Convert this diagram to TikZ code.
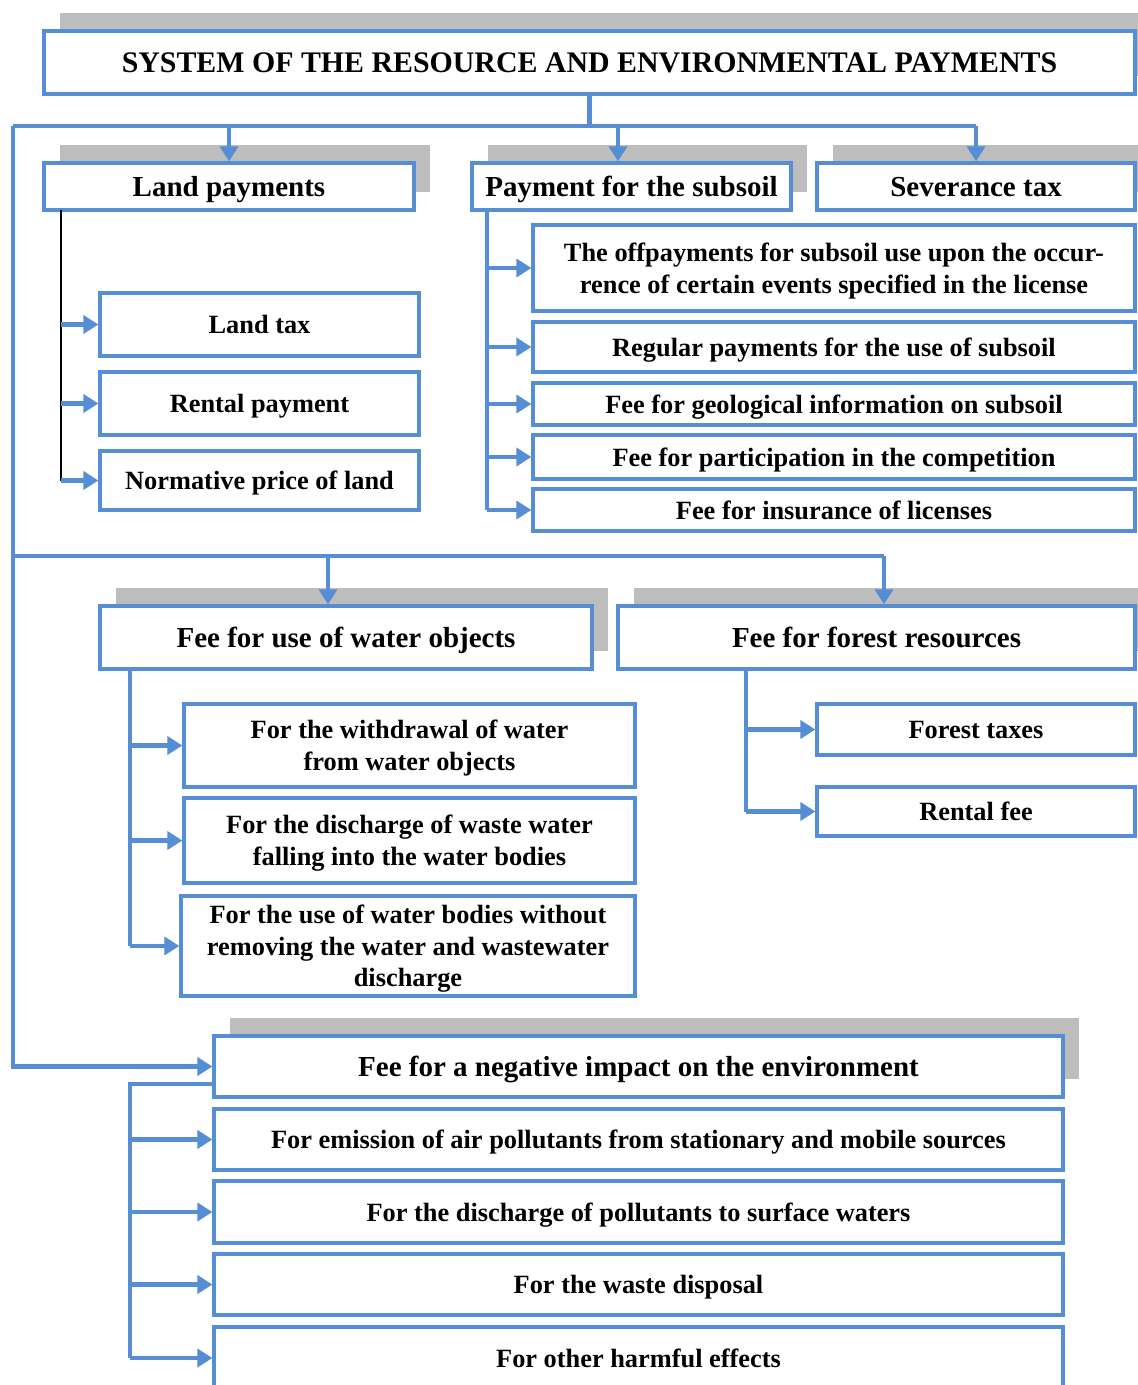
\documentclass[tikz,border=0pt]{standalone}
\usepackage{fontspec}
\setmainfont{Liberation Serif}
\usetikzlibrary{arrows.meta,shadows}
\definecolor{linkblue}{RGB}{85,142,213}
\tikzset{
  box/.style={draw=linkblue, line width=1.9pt, fill=white, inner sep=0pt, align=center,
    text depth=0pt, font=\bfseries\fontsize{15}{18}\selectfont},
  head/.style={box, font=\bfseries\fontsize{16.5}{20}\selectfont,
    drop shadow={shadow xshift=0.32cm, shadow yshift=0.36cm, fill=black!26, opacity=1}},
  link/.style={draw=linkblue, line width=2.5pt},
  arr/.style={link, -{Triangle[length=0.3cm,width=0.36cm]}}
}
\begin{document}
\begin{tikzpicture}[x=0.02cm, y=-0.02cm]
\useasboundingbox (0,0) rectangle (1137,1385);
% headers
\node (0)[head, font=\bfseries\fontsize{17}{20}\selectfont, minimum width=21.82cm, minimum height=1.26cm] at (589.5,62.5) {SYSTEM OF THE RESOURCE AND ENVIRONMENTAL PAYMENTS};
\node (1)[head, minimum width=7.4cm,  minimum height=0.94cm] at (229,186.5) {Land payments};
\node (2)[head, minimum width=6.38cm, minimum height=0.94cm] at (631.5,186.5) {Payment for the subsoil};
\node (3)[head, minimum width=6.36cm, minimum height=0.94cm] at (976,186.5) {Severance tax};
\node (4)[head, minimum width=9.84cm, minimum height=1.26cm] at (346,637.5) {Fee for use of water objects};
\node (5)[head, minimum width=10.34cm, minimum height=1.26cm] at (876.5,637.5) {Fee for forest resources};
\node (6)[head, minimum width=16.98cm, minimum height=1.22cm] at (638.5,1066.5) {Fee for a negative impact on the environment};
% land
\node (1a)[box, minimum width=6.38cm, minimum height=1.26cm] at (259.5,324.5) {Land tax};
\node (1b)[box, minimum width=6.38cm, minimum height=1.26cm] at (259.5,403.5) {Rental payment};
\node (1c)[box, minimum width=6.38cm, minimum height=1.18cm] at (259.5,480.5) {Normative price of land};
% subsoil
\node (2a)[box, minimum width=12.04cm, minimum height=1.72cm] at (834,268) {The offpayments for subsoil use upon the occur-\\rence of certain events specified in the license};
\node (2b)[box, minimum width=12.04cm, minimum height=1.0cm]  at (834,347) {Regular payments for the use of subsoil};
\node (2c)[box, minimum width=12.04cm, minimum height=0.84cm] at (834,404) {Fee for geological information on subsoil};
\node (2d)[box, minimum width=12.04cm, minimum height=0.88cm] at (834,457) {Fee for participation in the competition};
\node (2e)[box, minimum width=12.04cm, minimum height=0.84cm] at (834,510) {Fee for insurance of licenses};
% water
\node (4a)[box, minimum width=9.02cm, minimum height=1.66cm] at (409.5,745.5) {For the withdrawal of water\\from water objects};
\node (4b)[box, minimum width=9.02cm, minimum height=1.7cm]  at (409.5,840.5) {For the discharge of waste water\\falling into the water bodies};
\node (4c)[box, minimum width=9.08cm, minimum height=2.0cm]  at (408,946) {For the use of water bodies without\\removing the water and wastewater\\discharge};
% forest
\node (5a)[box, minimum width=6.36cm, minimum height=1.02cm] at (976,729.5) {Forest taxes};
\node (5b)[box, minimum width=6.36cm, minimum height=0.98cm] at (976,811.5) {Rental fee};
% negative impact
\node (6a)[box, minimum width=16.98cm, minimum height=1.22cm] at (638.5,1139.5) {For emission of air pollutants from stationary and mobile sources};
\node (6b)[box, minimum width=16.98cm, minimum height=1.24cm] at (638.5,1212) {For the discharge of pollutants to surface waters};
\node (6c)[box, minimum width=16.98cm, minimum height=1.22cm] at (638.5,1284.5) {For the waste disposal};
\node (6d)[box, minimum width=16.98cm, minimum height=1.24cm] at (638.5,1358) {For other harmful effects};
% main bus
\coordinate (bl) at (13,126);
\coordinate (ml) at (13,556);
\coordinate (d2) at ([xshift=-0.27cm]2.north);
\coordinate (d4) at ([xshift=-0.36cm]4.north);
\coordinate (d5) at ([xshift=0.15cm]5.north);
\draw[link] (0.south) -- (0.south |- bl);
\draw[link] (bl) -- (3.north |- bl);
\draw[arr] (1.north |- bl) -- (1.north);
\draw[arr] (d2 |- bl) -- (d2);
\draw[arr] (3.north |- bl) -- (3.north);
\draw[arr] (bl) |- (6.west);
\draw[link] (ml) -- (d5 |- ml);
\draw[arr] (d4 |- ml) -- (d4);
\draw[arr] (d5 |- ml) -- (d5);
% branches
\coordinate (lv) at (61,210);
\draw[black, line width=1.1pt] (lv) -- (lv |- 1c.west);
\foreach \n in {1a,1b,1c} \draw[arr] (lv |- \n.west) -- (\n.west);
\coordinate (sv) at (487,210);
\draw[link] (sv) -- (sv |- 2e.west);
\foreach \n in {2a,2b,2c,2d,2e} \draw[arr] (sv |- \n.west) -- (\n.west);
\coordinate (wv) at (130,669);
\draw[link] (wv) -- (wv |- 4c.west);
\foreach \n in {4a,4b,4c} \draw[arr] (wv |- \n.west) -- (\n.west);
\coordinate (fv) at (746,669);
\draw[link] (fv) -- (fv |- 5b.west);
\foreach \n in {5a,5b} \draw[arr] (fv |- \n.west) -- (\n.west);
\coordinate (nv) at (214,1084);
\coordinate (nc) at (130,1084);
\draw[link] (nv) -- (nc) -- (nc |- 6d.west);
\foreach \n in {6a,6b,6c,6d} \draw[arr] (nc |- \n.west) -- (\n.west);
\end{tikzpicture}
\end{document}
